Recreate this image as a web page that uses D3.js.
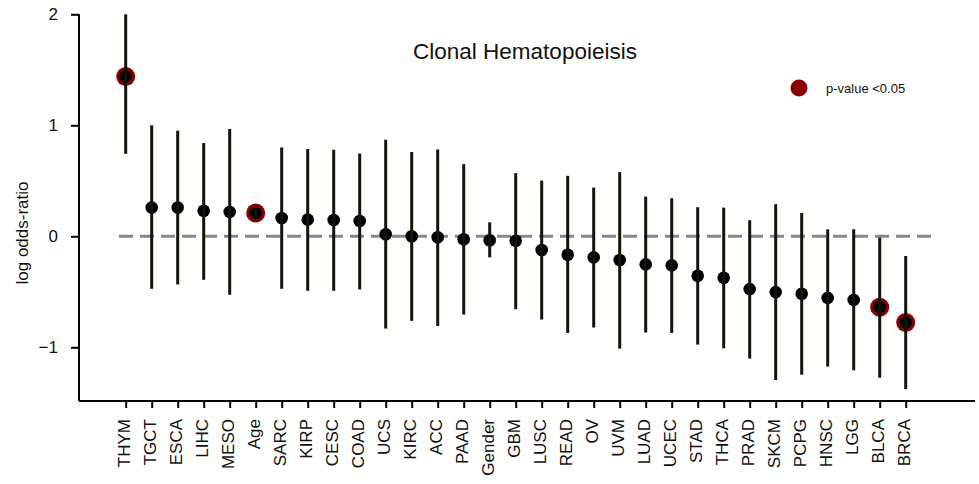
<!DOCTYPE html>
<html>
<head>
<meta charset="utf-8">
<script src="https://d3js.org/d3.v7.min.js"></script>
<style>
  body { margin: 0; background: #fff; }
  text { font-family: "Liberation Sans", Arial, sans-serif; fill: #111; }
</style>
</head>
<body>
<svg id="chart" width="979" height="484"></svg>
<script>
  // categories, sorted by log odds-ratio
  const categories = ["THYM", "TGCT", "ESCA", "LIHC", "MESO", "Age", "SARC", "KIRP", "CESC", "COAD",
    "UCS", "KIRC", "ACC", "PAAD", "Gender", "GBM", "LUSC", "READ", "OV", "UVM", "LUAD", "UCEC",
    "STAD", "THCA", "PRAD", "SKCM", "PCPG", "HNSC", "LGG", "BLCA", "BRCA"];
  const logOdds = [1.44, 0.26, 0.26, 0.23, 0.22, 0.21, 0.165, 0.15, 0.147, 0.138,
    0.018, 0.0, -0.009, -0.027, -0.036, -0.04, -0.124, -0.166, -0.19, -0.214, -0.253, -0.262,
    -0.356, -0.374, -0.476, -0.503, -0.518, -0.555, -0.573, -0.639, -0.777];
  const ciLow = [0.743, -0.473, -0.434, -0.392, -0.527, 0.17, -0.473, -0.491, -0.491, -0.479,
    -0.831, -0.762, -0.808, -0.705, -0.19, -0.657, -0.75, -0.871, -0.822, -1.012, -0.867, -0.871,
    -0.976, -1.009, -1.102, -1.295, -1.247, -1.174, -1.208, -1.274, -1.377];
  const ciHigh = [2.0, 1.0, 0.951, 0.84, 0.967, 0.25, 0.8, 0.786, 0.78, 0.746,
    0.87, 0.759, 0.782, 0.65, 0.126, 0.569, 0.502, 0.545, 0.439, 0.578, 0.358, 0.343,
    0.262, 0.258, 0.145, 0.289, 0.21, 0.063, 0.063, -0.012, -0.178];
  const significant = ["THYM", "Age", "BLCA", "BRCA"];
  const yTicks = [-1, 0, 1, 2];

  const rows = categories.map((c, i) => ({
    name: c, v: logOdds[i], lo: ciLow[i], hi: ciHigh[i], sig: significant.includes(c)
  }));

  const svg = d3.select("#chart");

  const x = d3.scalePoint().domain(categories).range([125.7, 905.7]);
  const y = d3.scaleLinear().domain([-1.484, 2]).range([401, 14.3]);

  // axes
  const yAxis = svg.append("g")
    .attr("transform", "translate(79,0)")
    .call(d3.axisLeft(y).tickValues(yTicks).tickSize(8).tickPadding(13)
      .tickFormat(d => d < 0 ? "\u2212" + Math.abs(d) : d));
  yAxis.select(".domain").attr("d", `M0,${y(2)}V${y.range()[0]}`);

  const xAxis = svg.append("g")
    .attr("transform", "translate(0,401)")
    .call(d3.axisBottom(x).tickSize(7).tickPadding(10));
  xAxis.select(".domain").attr("d", "M79,0H975");
  xAxis.selectAll(".tick text")
    .attr("transform", "rotate(-90)")
    .attr("text-anchor", "end")
    .attr("x", -18)
    .attr("y", 0)
    .attr("dy", "0.2em");

  svg.selectAll(".domain, .tick line")
    .attr("stroke", "#000").attr("stroke-width", 2);
  yAxis.selectAll(".tick text").attr("font-size", 17).attr("fill", "#111");
  xAxis.selectAll(".tick text").attr("font-size", 17).attr("fill", "#111");

  // reference line at zero
  svg.append("line")
    .attr("x1", 119).attr("x2", 931)
    .attr("y1", y(0)).attr("y2", y(0))
    .attr("stroke", "#888").attr("stroke-width", 3)
    .attr("stroke-dasharray", "14,7");

  // significant rings
  svg.selectAll(".ring")
    .data(rows.filter(d => d.sig))
    .join("circle")
    .attr("class", "ring")
    .attr("cx", d => x(d.name)).attr("cy", d => y(d.v))
    .attr("r", 9.5).attr("fill", "#8b0000");

  svg.selectAll(".dot")
    .data(rows)
    .join("circle")
    .attr("class", "dot")
    .attr("cx", d => x(d.name)).attr("cy", d => y(d.v))
    .attr("r", 6.3).attr("fill", "#000");

  // confidence intervals
  svg.selectAll(".ci")
    .data(rows)
    .join("line")
    .attr("class", "ci")
    .attr("x1", d => x(d.name)).attr("x2", d => x(d.name))
    .attr("y1", d => y(d.hi)).attr("y2", d => y(d.lo))
    .attr("stroke", "#141408").attr("stroke-width", 3);

  // title
  svg.append("text")
    .attr("x", 525).attr("y", 59)
    .attr("text-anchor", "middle")
    .attr("font-size", 22.5)
    .text("Clonal Hematopoieisis");

  // y label
  svg.append("text")
    .attr("transform", "translate(28,233) rotate(-90)")
    .attr("text-anchor", "middle")
    .attr("font-size", 17)
    .text("log odds-ratio");

  // legend
  svg.append("circle")
    .attr("cx", 799).attr("cy", 88).attr("r", 8.5).attr("fill", "#8b0000");
  svg.append("text")
    .attr("x", 826).attr("y", 92.5)
    .attr("font-size", 13)
    .text("p-value <0.05");
</script>
</body>
</html>
